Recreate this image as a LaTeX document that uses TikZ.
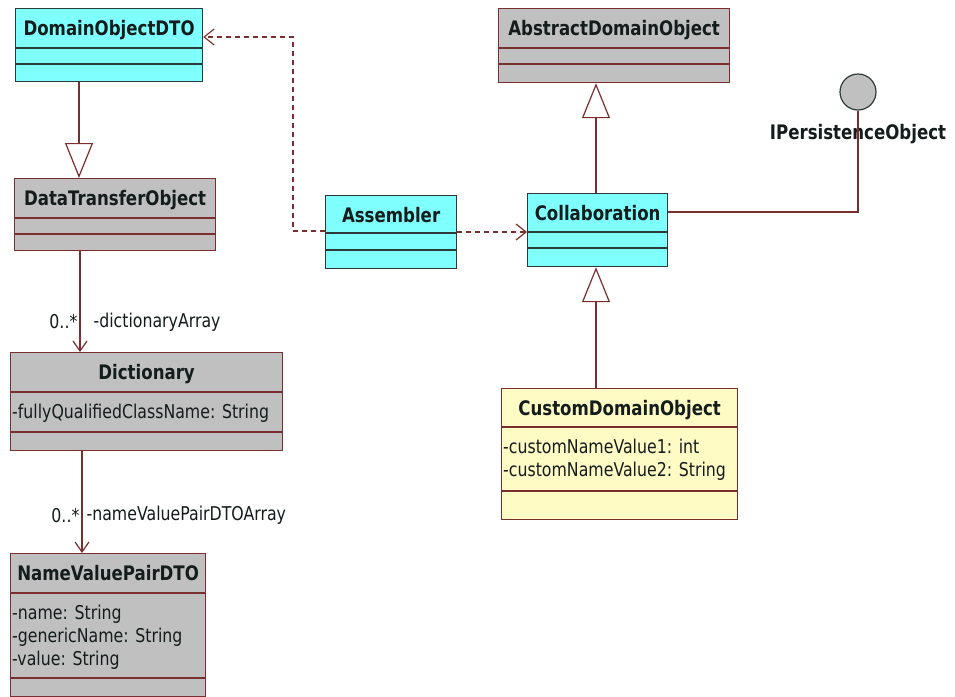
\documentclass[tikz,border=0pt]{standalone}
\usepackage{fontspec}
\setmainfont{DejaVu Sans}[FakeStretch=0.83]
\usetikzlibrary{arrows.meta,positioning}

\definecolor{rosecyan}{HTML}{80FFFF}
\definecolor{rosegray}{HTML}{C0C0C0}
\definecolor{roseyellow}{HTML}{FFFBC4}
\definecolor{maroon}{HTML}{7A2E2E}
\definecolor{inkdark}{HTML}{2E3A3A}
\definecolor{textdark}{HTML}{141C1C}

\tikzset{
  cyanbox/.style={draw=inkdark,fill=rosecyan,line width=1.2pt,inner sep=0pt},
  graybox/.style={draw=maroon,fill=rosegray,line width=1.2pt,inner sep=0pt},
  yellowbox/.style={draw=maroon,fill=roseyellow,line width=1.2pt,inner sep=0pt},
  classname/.style={font=\fontsize{20}{23}\selectfont\bfseries,text=textdark,inner sep=0pt},
  attrs/.style={font=\fontsize{19}{23}\selectfont,text=textdark,align=left,inner sep=0pt,anchor=north west},
  rolename/.style={font=\fontsize{19}{23}\selectfont,text=textdark,inner sep=2pt},
  gen/.style={draw=maroon,line width=1.2pt,-{Triangle[open,length=35pt,width=28pt]}},
  dep/.style={draw=maroon,line width=1.2pt,dash pattern=on 5pt off 4pt,-{Straight Barb[length=10pt,width=16pt]}},
  assoc/.style={draw=maroon,line width=1.2pt,-{Straight Barb[length=10pt,width=14pt]}},
  realize/.style={draw=maroon,line width=1.2pt}
}

\newcommand{\classbox}[7]{%
  \node[#2,minimum width=#4pt,minimum height=#5pt,anchor=north west] (#1) at (#3) {};
  \node[classname,anchor=base] (#1-name) at ([yshift=-27pt]#1.north) {#6};
  \foreach \s in {#7}
    \draw[#2,fill=none] ([yshift=-\s*1pt]#1.north west) -- ([yshift=-\s*1pt]#1.north east);
}

\begin{document}
\begin{tikzpicture}[x=1pt,y=-1pt]
\fill[white] (0,0) rectangle (955,696);
\useasboundingbox (0,0) rectangle (955,696);

\classbox{dto}{cyanbox}{15,8}{187}{73}{DomainObjectDTO}{40,56}
\classbox{dtobj}{graybox}{14,178}{201}{72}{DataTransferObject}{40,56}
\classbox{asm}{cyanbox}{325,195}{131}{73}{Assembler}{38,55}
\classbox{collab}{cyanbox}{527,193}{140}{73}{Collaboration}{39,55}
\classbox{ado}{graybox}{498,8}{231}{74}{AbstractDomainObject}{40,56}
\classbox{cdo}{yellowbox}{501,388}{236}{131}{CustomDomainObject}{39,103}
\classbox{dict}{graybox}{10,352}{272}{98}{Dictionary}{40,80}
\classbox{nvp}{graybox}{10,553}{195}{143}{NameValuePairDTO}{40,125}

\node[attrs] (dict-attr) at ([xshift=2pt,yshift=-52pt]dict.north west) {-fullyQualifiedClassName: String};
\node[attrs] (cdo-attr) at ([xshift=2pt,yshift=-51pt]cdo.north west) {-customNameValue1: int\\-customNameValue2: String};
\node[attrs] (nvp-attr) at ([xshift=2pt,yshift=-52pt]nvp.north west) {-name: String\\-genericName: String\\-value: String};

\node[circle,draw=inkdark,fill=rosegray,line width=1.2pt,minimum size=36pt,inner sep=0pt] (ipo) at (858,92) {};
\node[classname,below=14pt of ipo] (ipo-name) {IPersistenceObject};

\draw[gen] ([xshift=64pt]dto.south west) -- ([xshift=64pt]dto.south west |- dtobj.north);
\draw[gen] ([xshift=69pt]collab.north west) -- ([xshift=69pt]collab.north west |- ado.south);
\draw[gen] ([xshift=69pt]collab.south west |- cdo.north) -- ([xshift=69pt]collab.south west);

\draw[dep] ([yshift=-36pt]asm.north west) -| (293,37) -- ([yshift=-29pt]dto.north east);
\draw[dep] ([yshift=-37pt]asm.north east) -- ([yshift=-39pt]collab.north west);

\draw[realize] ([yshift=-19pt]collab.north east) -| (ipo.south);

\draw[assoc] ([xshift=66pt]dtobj.south west) -- node[rolename,pos=.7,left]{0..*} node[rolename,pos=.7,right,xshift=11pt]{-dictionaryArray} ([xshift=70pt]dict.north west);
\draw[assoc] ([xshift=72pt]dict.south west) -- node[rolename,pos=.63,left]{0..*} node[rolename,pos=.63,right,xshift=2pt]{-nameValuePairDTOArray} ([xshift=72pt]nvp.north west);
\end{tikzpicture}
\end{document}
